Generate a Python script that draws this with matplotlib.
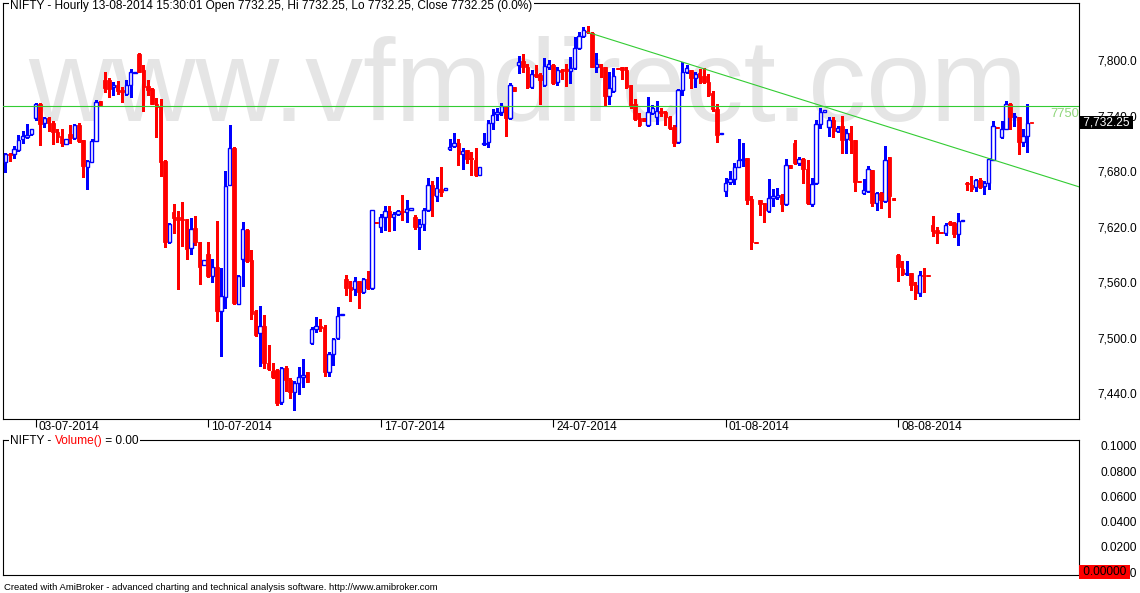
import matplotlib.pyplot as plt
import numpy as np
from matplotlib.transforms import ScaledTranslation

plt.rcParams['font.family'] = ['Liberation Sans', 'DejaVu Sans']

# NIFTY hourly bars, 02-07-2014 .. 13-08-2014 (8 bars per session)
opens = [
    7690, 7699, 7698, 7703, 7715, 7717, 7720,
    7737, 7753, 7732, 7737, 7732, 7722, 7718, 7709,
    7720, 7716, 7730, 7714, 7685, 7690, 7713, 7756,
    7778, 7778, 7771, 7773, 7768, 7763, 7773, 7786,
    7807, 7789, 7772, 7769, 7753, 7750, 7691, 7603,
    7636, 7631, 7628, 7628, 7597, 7619, 7603, 7579,
    7590, 7567, 7576, 7529, 7544, 7665, 7705, 7537,
    7585, 7616, 7584, 7529, 7505, 7513, 7473, 7464,
    7465, 7431, 7467, 7454, 7441, 7451, 7458, 7463,
    7494, 7509, 7513, 7512, 7463, 7482, 7500, 7525,
    7563, 7555, 7553, 7561, 7550, 7564, 7554, 7625,
    7620, 7630, 7637, 7631, 7634, 7637, 7636, 7638,
    7630, 7620, 7623, 7638, 7665, 7653, 7661, 7660,
    7704, 7707, 7710, 7698, 7703, 7694, 7692, 7676,
    7709, 7711, 7732, 7742, 7744, 7750, 7737, 7771,
    7795, 7799, 7793, 7771, 7785, 7784, 7773, 7792,
    7795, 7776, 7789, 7790, 7788, 7791, 7813, 7826,
    7831, 7829, 7793, 7796, 7793, 7761, 7767, 7791,
    7792, 7789, 7773, 7752, 7737, 7737, 7730, 7743,
    7739, 7745, 7744, 7739, 7728, 7711, 7768, 7787,
    7789, 7781, 7786, 7783, 7776, 7764, 7747, 7720,
    7659, 7668, 7671, 7685, 7692, 7694, 7650, 7604,
    7649, 7646, 7637, 7651, 7652, 7654, 7644, 7687,
    7710, 7689, 7693, 7682, 7645, 7667, 7731, 7744,
    7728, 7735, 7723, 7729, 7715, 7721, 7714, 7669,
    7656, 7659, 7681, 7646, 7656, 7648, 7695, 7651,
    7589, 7574, 7569, 7570, 7557, 7548, 7568, 7568,
    7622, 7616, 7614, 7613, 7625, 7624, 7612, 7626,
    7667, 7665, 7663, 7670, 7664, 7667, 7692, 7728,
    7717, 7726, 7753, 7738, 7739, 7712, 7718, 7732.25,
]
highs = [
    7700, 7700, 7707, 7719, 7723, 7731, 7726,
    7754, 7754, 7739, 7738, 7734, 7726, 7725, 7715,
    7730, 7731, 7732, 7714, 7692, 7715, 7757, 7756,
    7787, 7781, 7776, 7777, 7771, 7778, 7790, 7787,
    7808, 7795, 7778, 7770, 7759, 7758, 7692, 7624,
    7645, 7637, 7647, 7628, 7629, 7632, 7603, 7584,
    7604, 7585, 7626, 7575, 7680, 7730, 7706, 7568,
    7625, 7617, 7595, 7530, 7534, 7525, 7492, 7473,
    7466, 7468, 7470, 7457, 7453, 7468, 7477, 7463,
    7512, 7522, 7520, 7514, 7485, 7500, 7533, 7526,
    7568, 7561, 7566, 7561, 7565, 7572, 7638, 7625,
    7634, 7642, 7642, 7636, 7638, 7654, 7649, 7640,
    7633, 7628, 7640, 7673, 7669, 7674, 7684, 7662,
    7715, 7721, 7715, 7705, 7703, 7701, 7705, 7684,
    7721, 7735, 7747, 7748, 7754, 7750, 7775, 7771,
    7804, 7807, 7796, 7789, 7795, 7786, 7802, 7800,
    7796, 7793, 7790, 7796, 7803, 7825, 7830, 7836,
    7837, 7830, 7808, 7796, 7793, 7787, 7791, 7791,
    7793, 7792, 7773, 7758, 7743, 7737, 7760, 7751,
    7756, 7748, 7745, 7740, 7730, 7769, 7798, 7795,
    7789, 7787, 7790, 7791, 7785, 7767, 7753, 7721,
    7673, 7680, 7689, 7715, 7710, 7694, 7653, 7604,
    7649, 7646, 7671, 7661, 7662, 7655, 7693, 7687,
    7714, 7695, 7694, 7692, 7673, 7735, 7748, 7746,
    7739, 7739, 7729, 7740, 7725, 7729, 7714, 7669,
    7672, 7686, 7681, 7657, 7657, 7707, 7695, 7651,
    7590, 7583, 7583, 7570, 7560, 7572, 7575, 7568,
    7632, 7620, 7614, 7624, 7626, 7625, 7635, 7627,
    7668, 7675, 7672, 7673, 7669, 7694, 7734, 7728,
    7734, 7756, 7754, 7743, 7739, 7726, 7752, 7732.25,
]
lows = [
    7679, 7691, 7694, 7702, 7710, 7716, 7719,
    7735, 7708, 7728, 7723, 7709, 7712, 7707, 7709,
    7710, 7715, 7712, 7674, 7661, 7690, 7713, 7751,
    7765, 7760, 7762, 7763, 7755, 7762, 7760, 7786,
    7787, 7745, 7762, 7752, 7717, 7675, 7598, 7602,
    7613, 7553, 7599, 7585, 7590, 7600, 7558, 7579,
    7566, 7560, 7518, 7480, 7532, 7665, 7536, 7536,
    7556, 7582, 7520, 7502, 7470, 7467, 7465, 7457,
    7427, 7428, 7443, 7435, 7422, 7439, 7447, 7452,
    7493, 7506, 7507, 7459, 7459, 7471, 7499, 7525,
    7546, 7540, 7546, 7532, 7548, 7553, 7553, 7624,
    7614, 7616, 7615, 7616, 7633, 7627, 7625, 7638,
    7617, 7596, 7616, 7637, 7632, 7648, 7653, 7660,
    7703, 7706, 7687, 7682, 7689, 7676, 7675, 7676,
    7708, 7706, 7726, 7735, 7741, 7718, 7736, 7767,
    7786, 7787, 7770, 7770, 7782, 7753, 7772, 7790,
    7774, 7773, 7779, 7772, 7775, 7790, 7812, 7825,
    7829, 7792, 7787, 7782, 7750, 7753, 7766, 7790,
    7780, 7770, 7748, 7735, 7729, 7734, 7729, 7742,
    7731, 7740, 7730, 7725, 7707, 7710, 7762, 7786,
    7770, 7771, 7775, 7775, 7761, 7745, 7712, 7720,
    7653, 7666, 7666, 7684, 7686, 7644, 7596, 7602,
    7633, 7625, 7636, 7642, 7650, 7637, 7643, 7683,
    7688, 7687, 7667, 7645, 7642, 7666, 7727, 7744,
    7718, 7717, 7722, 7700, 7700, 7700, 7659, 7668,
    7655, 7658, 7642, 7638, 7640, 7647, 7631, 7649,
    7561, 7568, 7568, 7552, 7542, 7545, 7549, 7567,
    7610, 7602, 7613, 7611, 7622, 7609, 7600, 7626,
    7660, 7659, 7659, 7662, 7655, 7661, 7692, 7727,
    7716, 7725, 7725, 7729, 7698, 7707, 7701, 7732.25,
]
closes = [
    7699, 7697, 7704, 7714, 7718, 7719, 7725,
    7753, 7731, 7737, 7732, 7722, 7717, 7710, 7715,
    7716, 7730, 7713, 7686, 7691, 7713, 7755, 7751,
    7770, 7769, 7773, 7767, 7765, 7773, 7787, 7787,
    7787, 7771, 7768, 7753, 7749, 7690, 7603, 7623,
    7629, 7627, 7627, 7596, 7618, 7603, 7577, 7584,
    7567, 7576, 7529, 7545, 7664, 7705, 7538, 7567,
    7617, 7583, 7526, 7503, 7513, 7473, 7466, 7458,
    7430, 7467, 7454, 7441, 7451, 7458, 7460, 7452,
    7509, 7513, 7511, 7463, 7482, 7499, 7524, 7526,
    7554, 7552, 7561, 7550, 7563, 7554, 7638, 7624,
    7630, 7637, 7630, 7634, 7637, 7636, 7639, 7640,
    7620, 7623, 7638, 7665, 7654, 7662, 7658, 7662,
    7706, 7710, 7698, 7702, 7693, 7693, 7676, 7684,
    7710, 7732, 7741, 7744, 7750, 7737, 7773, 7767,
    7798, 7792, 7771, 7785, 7783, 7778, 7794, 7796,
    7775, 7789, 7787, 7788, 7791, 7813, 7826, 7832,
    7830, 7793, 7796, 7793, 7761, 7770, 7783, 7790,
    7789, 7771, 7750, 7736, 7730, 7734, 7744, 7748,
    7745, 7743, 7739, 7727, 7710, 7768, 7787, 7791,
    7781, 7785, 7782, 7776, 7762, 7747, 7719, 7721,
    7667, 7671, 7684, 7692, 7693, 7649, 7603, 7602,
    7645, 7638, 7651, 7653, 7654, 7644, 7687, 7683,
    7689, 7693, 7682, 7646, 7666, 7731, 7744, 7746,
    7735, 7723, 7727, 7714, 7721, 7714, 7668, 7668,
    7660, 7682, 7646, 7656, 7649, 7692, 7653, 7649,
    7576, 7569, 7570, 7557, 7548, 7568, 7567, 7567,
    7615, 7613, 7613, 7622, 7623, 7612, 7626, 7627,
    7666, 7661, 7670, 7663, 7667, 7693, 7729, 7727,
    7726, 7753, 7738, 7740, 7712, 7718, 7732, 7732.25,
]

date_ticks = [7, 47, 87, 127, 167, 207]
date_labels = ["03-07-2014", "10-07-2014", "17-07-2014",
               "24-07-2014", "01-08-2014", "08-08-2014"]
price_ticks = [7440, 7500, 7560, 7620, 7680, 7740, 7800]
volume_ticks = [0.0, 0.02, 0.04, 0.06, 0.08, 0.1]
level_line = 7750
trend_x = [135, 249]
trend_y = [7830, 7663]
last_close = 7732.25

W, H = 1140, 593
FS = 8.6
fig = plt.figure(figsize=(W / 100, H / 100), dpi=100)
ax = fig.add_axes([3.3 / W, 1 - 419 / H, (1079 - 3.3) / W, (419 - 3) / H])
axv = fig.add_axes([3.3 / W, 1 - 575 / H, (1079 - 3.3) / W, (575 - 440) / H])

o = np.array(opens, float)
h = np.array(highs, float)
l = np.array(lows, float)
c = np.array(closes, float)
idx = np.arange(len(o))
up = c > o

# watermark behind the candles
ax.text(28 / W, 1 - 121 / H, "www.vfmdirect.com", transform=fig.transFigure,
        fontsize=83.5, color='#e5e5e5', ha='left', va='baseline', zorder=0.5)

ax.vlines(idx[up], l[up], h[up], colors='#0000ff', lw=0.75, zorder=2, antialiased=False)
ax.vlines(idx[~up], l[~up], h[~up], colors='#ff0000', lw=0.75, zorder=2, antialiased=False)
bottom = np.minimum(o, c)
height = np.maximum(np.abs(c - o), 0.6)
ax.bar(idx[up], height[up], bottom=bottom[up], width=0.78, facecolor='white',
       edgecolor='#0000ff', lw=1.0, zorder=3)
ax.bar(idx[~up], height[~up], bottom=bottom[~up], width=0.8, facecolor='#ff0000',
       edgecolor='#ff0000', lw=0.6, zorder=3)

ax.axhline(level_line, color='#33cc33', lw=0.8, zorder=4)
ax.plot(trend_x, trend_y, color='#33cc33', lw=0.8, zorder=4)
ax.text(1.0, level_line - 1.5, str(level_line), transform=ax.get_yaxis_transform(),
        ha='right', va='top', color='#8fd67a', fontsize=FS + 0.8, zorder=5)

ax.set_xlim(-0.51, 248.96)
ax.set_ylim(7412.3, 7861.6)
axv.set_xlim(-0.51, 248.96)
axv.set_ylim(-0.00238, 0.10476)

for a in (ax, axv):
    for s in a.spines.values():
        s.set_linewidth(0.8)
        s.set_color('black')
    a.yaxis.tick_right()
    a.tick_params(axis='y', length=0, pad=41.8, labelsize=FS)

ax.set_yticks(price_ticks, [f"{v:,.1f}" for v in price_ticks])
axv.set_yticks(volume_ticks, [f"{v:.4f}" for v in volume_ticks])
for a in (ax, axv):
    for lbl in a.get_yticklabels():
        lbl.set_ha('right')

ax.set_xticks(date_ticks, date_labels)
ax.tick_params(axis='x', direction='out', length=6, width=0.8, pad=-4.6, labelsize=FS)
shift = ScaledTranslation(2.2 / 72, 0, fig.dpi_scale_trans)
for lbl in ax.get_xticklabels():
    lbl.set_ha('left')
    lbl.set_transform(lbl.get_transform() + shift)
axv.set_xticks([])

# titles sitting on the panel borders
ax.text(10 / W, 1 - 6.5 / H,
        "NIFTY - Hourly 13-08-2014 15:30:01 Open 7732.25, Hi 7732.25, Lo 7732.25, "
        "Close 7732.25 (0.0%)",
        transform=fig.transFigure, ha='left', va='center', fontsize=FS,
        bbox=dict(fc='white', ec='none', pad=1.0), zorder=10, clip_on=False)
t1 = axv.text(10 / W, 1 - 441 / H, "NIFTY - ", transform=fig.transFigure,
              ha='left', va='center', fontsize=FS, zorder=10,
              bbox=dict(fc='white', ec='none', pad=1.0))
t2 = axv.annotate("Volume()", xy=(1, 0), xycoords=t1, va='bottom', ha='left',
                  color='#ff0000', fontsize=FS, zorder=10,
                  bbox=dict(fc='white', ec='none', pad=1.0))
axv.annotate(" = 0.00", xy=(1, 0), xycoords=t2, va='bottom', ha='left',
             fontsize=FS, zorder=10, bbox=dict(fc='white', ec='none', pad=1.0))

# last price marker and volume value box
ax.annotate(f" {last_close:,.2f} ", xy=(1.0, last_close),
            xycoords=('axes fraction', 'data'), xytext=(0.6, 0), textcoords='offset points',
            ha='left', va='center', color='white', fontsize=FS,
            bbox=dict(fc='black', ec='none', pad=0.5), annotation_clip=False, zorder=10)
axv.annotate(" 0.00000 ", xy=(1.0, 0.0), xycoords=('axes fraction', 'data'),
             xytext=(0.8, 0), textcoords='offset points', ha='left', va='center',
             color='black', fontsize=FS,
             bbox=dict(fc='#ff0000', ec='none', pad=0.5), annotation_clip=False, zorder=10)

fig.text(4 / W, 1 - 587 / H,
         "Created with AmiBroker - advanced charting and technical analysis software. "
         "http://www.amibroker.com",
         ha='left', va='center', fontsize=6.8)

fig.savefig("out.png", dpi=100)
